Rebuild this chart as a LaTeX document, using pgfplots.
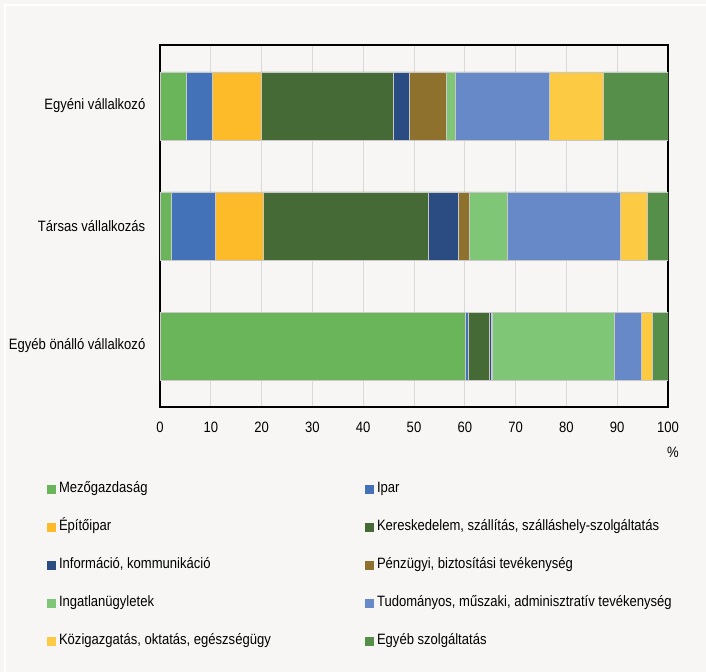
\documentclass[border=0pt]{standalone}
\usepackage{fontspec}
\setmainfont{Liberation Sans}[FakeStretch=0.87]
\usepackage{pgfplots}
\pgfplotsset{compat=1.18}
\definecolor{bg}{RGB}{247,246,244}
\definecolor{c1}{RGB}{106,181,90}
\definecolor{c2}{RGB}{68,114,185}
\definecolor{c3}{RGB}{253,187,42}
\definecolor{c4}{RGB}{70,106,53}
\definecolor{c5}{RGB}{43,76,130}
\definecolor{c6}{RGB}{142,113,44}
\definecolor{c7}{RGB}{127,198,118}
\definecolor{c8}{RGB}{103,137,199}
\definecolor{c9}{RGB}{253,202,68}
\definecolor{c10}{RGB}{86,143,74}
\definecolor{edge}{RGB}{200,200,200}
\definecolor{gridc}{RGB}{217,217,217}
\newcommand\LE[1]{\makebox[300bp][l]{#1}}
\pgfplotsset{
  myleg/.style={legend image code/.code={\fill[##1,draw=none] (0bp,-4.5bp) rectangle (9bp,4.5bp);}},
  mybar/.style={fill=#1, draw=edge, line width=0.5bp, myleg}
}
\begin{document}
\begin{tikzpicture}[font=\fontsize{15bp}{18bp}\selectfont]
\fill[bg] (0,0) rectangle (706bp,672bp);
\useasboundingbox (0,0) rectangle (706bp,672bp);
\draw[white, line width=2bp] (5bp,0) -- (5bp,667bp) -- (706bp,667bp);
\begin{axis}[
  at={(160bp,265bp)}, anchor=south west,
  scale only axis, width=508bp, height=362bp,
  xbar stacked, bar width=68bp,
  xmin=0, xmax=100, ymin=-0.5083, ymax=2.5083,
  xtick={0,10,...,100}, ytick={0,1,2},
  yticklabels={Egyéb önálló vállalkozó, Társas vállalkozás, Egyéni vállalkozó},
  major tick length=0pt,
  /pgf/number format/assume math mode=true,
  axis line style={black, line width=1.3bp},
  axis background/.style={fill=bg},
  xmajorgrids, major grid style={gridc, line width=0.9bp},
  xticklabel style={anchor=north, inner sep=0pt, yshift=-14.7bp},
  yticklabel style={anchor=east, inner sep=0pt, xshift=-14.5bp},
  xlabel={\%},
  xlabel style={at={(axis description cs:1.0098,0)}, anchor=north, inner sep=0pt, yshift=-40bp},
  legend columns=2,
  legend cell align=left,
  legend style={draw=none, fill=none, at={(-0.2224,-0.2099)}, anchor=north west,
    inner sep=0pt, outer sep=0pt, row sep=25bp,
    nodes={inner sep=0pt, text height=10bp, text depth=3bp},
    /tikz/every odd column/.append style={column sep=3bp},
    /tikz/every even column/.append style={column sep=6bp}},
]
\addplot[mybar=c1] coordinates {(60.0,0) (2.3,1) (5.1,2)};
\addplot[mybar=c2] coordinates {(0.6,0) (8.5,1) (5.2,2)};
\addplot[mybar=c3] coordinates {(0.1,0) (9.5,1) (9.6,2)};
\addplot[mybar=c4] coordinates {(4.2,0) (32.5,1) (26.1,2)};
\addplot[mybar=c5] coordinates {(0.4,0) (6.0,1) (3.1,2)};
\addplot[mybar=c6] coordinates {(0.1,0) (2.1,1) (7.2,2)};
\addplot[mybar=c7] coordinates {(24.1,0) (7.4,1) (1.8,2)};
\addplot[mybar=c8] coordinates {(5.2,0) (22.3,1) (18.6,2)};
\addplot[mybar=c9] coordinates {(2.2,0) (5.3,1) (10.6,2)};
\addplot[mybar=c10] coordinates {(3.1,0) (4.1,1) (12.7,2)};
\legend{\LE{Mezőgazdaság}, \LE{Ipar}, \LE{Építőipar}, \LE{Kereskedelem, szállítás, szálláshely-szolgáltatás}, \LE{Információ, kommunikáció}, \LE{Pénzügyi, biztosítási tevékenység}, \LE{Ingatlanügyletek}, \LE{Tudományos, műszaki, adminisztratív tevékenység}, \LE{Közigazgatás, oktatás, egészségügy}, \LE{Egyéb szolgáltatás}}
\end{axis}
\end{tikzpicture}
\end{document}
